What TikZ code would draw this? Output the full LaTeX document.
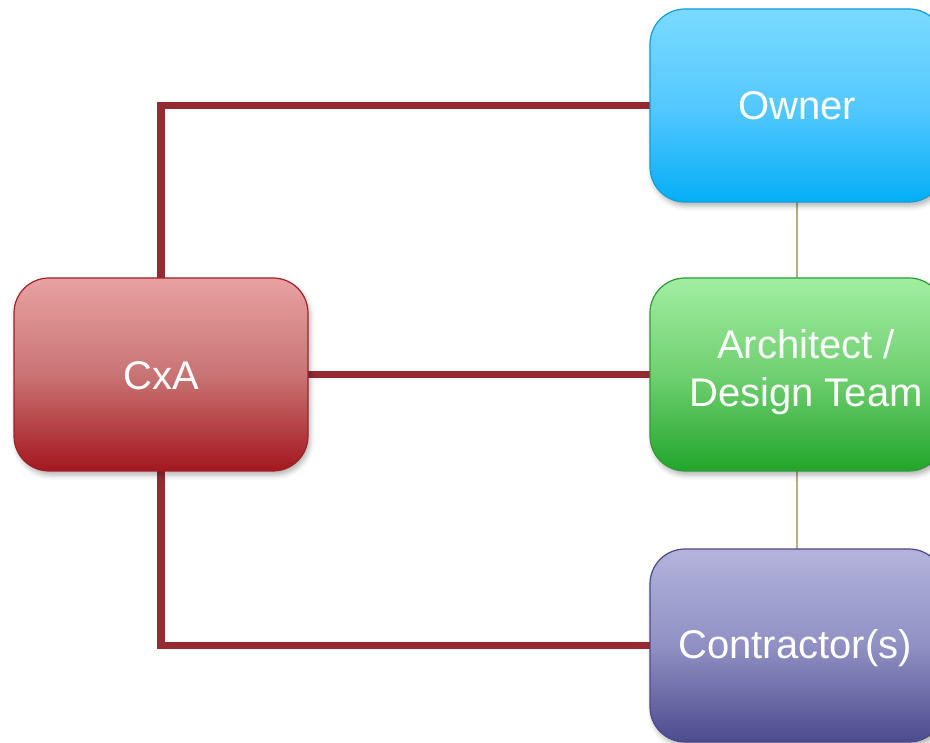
\documentclass[tikz,border=0pt]{standalone}
\usepackage{fontspec}
\setmainfont{Liberation Sans}
\usetikzlibrary{shadows.blur}
\definecolor{cxaTop}{HTML}{E8A1A1}
\definecolor{cxaMid}{HTML}{C97474}
\definecolor{cxaBot}{HTML}{A3171F}
\definecolor{cxaLine}{HTML}{9B2226}
\definecolor{ownTop}{HTML}{7ADAFF}
\definecolor{ownMid}{HTML}{55C8FF}
\definecolor{ownBot}{HTML}{05AEF5}
\definecolor{ownLine}{HTML}{0AA0DC}
\definecolor{arcTop}{HTML}{A2EEA2}
\definecolor{arcMid}{HTML}{70D070}
\definecolor{arcBot}{HTML}{22A52C}
\definecolor{arcLine}{HTML}{2E9B34}
\definecolor{conTop}{HTML}{B3B3DC}
\definecolor{conMid}{HTML}{9090C4}
\definecolor{conBot}{HTML}{4B4B8E}
\definecolor{conLine}{HTML}{4A4A86}
\definecolor{connRed}{HTML}{952A30}
\definecolor{tan}{HTML}{B5AE86}
\tikzset{
  box/.style={rounded corners=35pt, minimum width=294pt, minimum height=193pt,
    inner sep=0pt, text=white, font=\fontsize{40}{48}\selectfont, align=center,
    blur shadow={shadow xshift=2pt, shadow yshift=-4pt, shadow opacity=30, shadow blur radius=5pt},
    line width=1.2pt},
  cxastyle/.style={box, draw=cxaLine, top color=cxaTop, bottom color=cxaBot, middle color=cxaMid},
  ownstyle/.style={box, draw=ownLine, top color=ownTop, bottom color=ownBot, middle color=ownMid},
  arcstyle/.style={box, draw=arcLine, top color=arcTop, bottom color=arcBot, middle color=arcMid},
  constyle/.style={box, draw=conLine, top color=conTop, bottom color=conBot, middle color=conMid},
  conn/.style={draw=connRed, line width=7.5pt},
  thin/.style={draw=tan, line width=1.5pt}
}
\begin{document}
\begin{tikzpicture}[x=1pt, y=-1pt]
\useasboundingbox (0,0) rectangle (930,743);
% connectors behind
\coordinate (cxaN) at (161,278);
\coordinate (cxaS) at (161,471);
\coordinate (cxaE) at (308,374.5);
\coordinate (ownW) at (650,105.5);
\coordinate (arcW) at (650,374.5);
\coordinate (conW) at (650,645.5);
\coordinate (ownS) at (797,202);
\coordinate (arcN) at (797,278);
\coordinate (arcS) at (797,471);
\coordinate (conN) at (797,549);
\draw[conn] (cxaN) |- (ownW);
\draw[conn] (cxaE) -- (arcW);
\draw[conn] (cxaS) |- (conW);
\draw[thin] (ownS) -- (arcN);
\draw[thin] (arcS) -- (conN);
% boxes
\node[cxastyle] (cxa) at (161,374.5) {};
\node[text=white, font=\fontsize{40}{48}\selectfont] (cxat) at (161,376) {CxA};
\node[ownstyle] (owner) at (797,105.5) {};
\node[text=white, font=\fontsize{40}{48}\selectfont] (ownt) at (797,106) {Owner};
\node[arcstyle] (arch) at (797,374.5) {};
\node[text=white, font=\fontsize{40}{48}\selectfont, align=center] (arct) at (806,372) {Architect /\\Design Team};
\node[constyle] (contr) at (797,645.5) {};
\node[text=white, font=\fontsize{40}{48}\selectfont] (cont) at (795,648) {Contractor(s)};
\end{tikzpicture}
\end{document}
